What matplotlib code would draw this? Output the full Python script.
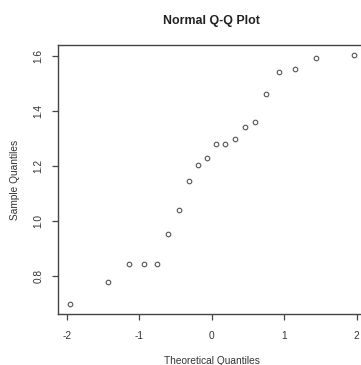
import matplotlib
matplotlib.use("Agg")
import matplotlib.pyplot as plt

plt.rcParams['font.family'] = ['Liberation Sans', 'DejaVu Sans']

# theoretical normal quantiles for n = 20 (ppoints)
theoretical = [-1.96, -1.44, -1.15, -0.93, -0.755, -0.60, -0.454, -0.319, -0.189, -0.063,
               0.063, 0.189, 0.319, 0.454, 0.60, 0.755, 0.93, 1.15, 1.44, 1.96]
# sorted sample values
sample = [0.696, 0.775, 0.843, 0.843, 0.843, 0.952, 1.038, 1.143, 1.204, 1.229,
          1.278, 1.278, 1.298, 1.341, 1.361, 1.461, 1.542, 1.554, 1.591, 1.603]

x_ticks = [-2, -1, 0, 1, 2]
y_ticks = [0.8, 1.0, 1.2, 1.4, 1.6]

W, H = 361, 365
fig = plt.figure(figsize=(W / 100, H / 100), dpi=100)
ax = fig.add_axes([58.3 / W, (H - 314) / H, (365.3 - 58.3) / W, (314 - 45) / H])

text_col = '#333333'
line_col = '#444444'

ax.plot(theoretical, sample, linestyle='none', marker='o', markersize=3.3,
        markerfacecolor='none', markeredgecolor='#555555', markeredgewidth=0.8)

ax.set_xlim(-2.12, 2.12)
ax.set_ylim(0.66, 1.64)
ax.set_xticks(x_ticks)
ax.set_xticklabels([str(v) for v in x_ticks])
ax.set_yticks(y_ticks)
ax.set_yticklabels([f"{v:.1f}" for v in y_ticks], rotation=90, va='center')

for s in ax.spines.values():
    s.set_color(line_col)
    s.set_linewidth(1.0)

ax.tick_params(axis='both', direction='out', length=4.3, width=0.9,
               colors=line_col, labelcolor=text_col, labelsize=7.3)
ax.tick_params(axis='x', pad=7.7)
ax.tick_params(axis='y', pad=6.5)

fig.text(211.8 / W, 1 - 20.7 / H, "Normal Q-Q Plot", ha='center', va='center',
         fontsize=8.9, fontweight='bold', color='#222222')
fig.text(211.8 / W, 1 - 360.7 / H, "Theoretical Quantiles", ha='center', va='center',
         fontsize=7.3, color=text_col)
fig.text(15 / W, 1 - 179.5 / H, "Sample Quantiles", ha='center', va='center',
         rotation=90, fontsize=7.3, color=text_col)

fig.savefig("out.png", dpi=100)
